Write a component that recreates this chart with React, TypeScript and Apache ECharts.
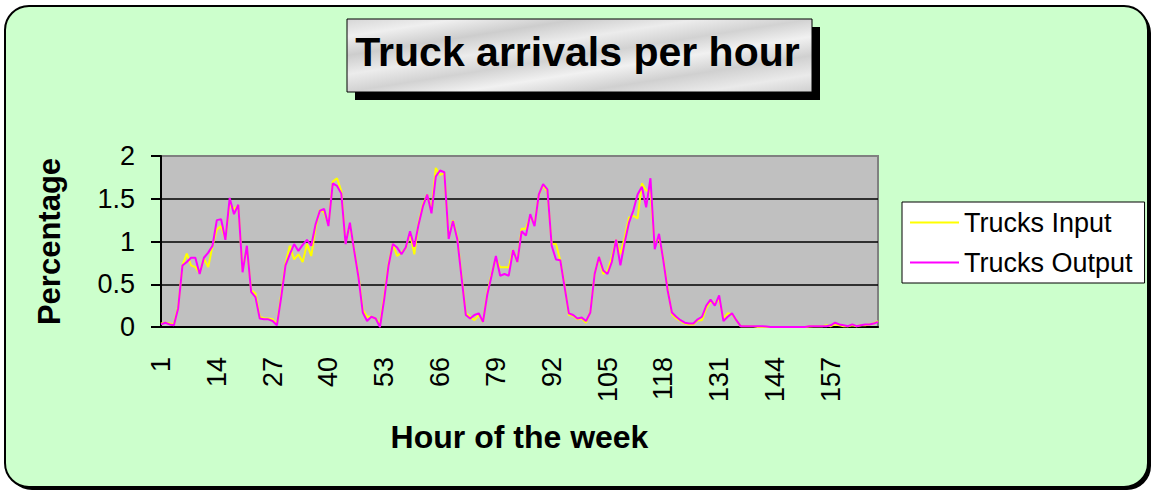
import React, { useEffect, useRef } from "react";
import * as echarts from "echarts";

const hours: string[] = Array.from({ length: 168 }, (_, i) => String(i + 1));

const trucksInput: number[] = [
  0.04, 0.05, 0.04, 0.03, 0.24, 0.72, 0.86, 0.72, 0.70, 0.63,
  0.80, 0.70, 0.95, 1.14, 1.18, 1.03, 1.43, 1.38, 1.42, 0.66,
  0.93, 0.43, 0.39, 0.12, 0.10, 0.10, 0.09, 0.03, 0.38, 0.74,
  0.95, 0.79, 0.85, 0.76, 0.97, 0.83, 1.16, 1.37, 1.34, 1.20,
  1.70, 1.74, 1.59, 0.98, 1.20, 0.90, 0.60, 0.20, 0.12, 0.12,
  0.10, 0.03, 0.36, 0.74, 0.97, 0.83, 0.87, 0.92, 1.10, 0.85,
  1.22, 1.43, 1.55, 1.35, 1.86, 1.78, 1.80, 1.05, 1.25, 1.05,
  0.60, 0.16, 0.12, 0.08, 0.14, 0.06, 0.40, 0.62, 0.80, 0.70,
  0.70, 0.70, 0.90, 0.76, 1.15, 1.15, 1.30, 1.20, 1.55, 1.66,
  1.58, 0.97, 0.97, 0.78, 0.49, 0.14, 0.13, 0.09, 0.10, 0.05,
  0.18, 0.62, 0.82, 0.62, 0.66, 0.81, 1.02, 0.85, 1.05, 1.28,
  1.30, 1.27, 1.68, 1.60, 1.58, 0.95, 1.05, 0.80, 0.45, 0.15,
  0.10, 0.07, 0.04, 0.03, 0.03, 0.08, 0.08, 0.22, 0.30, 0.27,
  0.33, 0.10, 0.16, 0.15, 0.08, 0.01, 0.01, 0.01, 0.01, 0,
  0, 0, 0, 0, 0, 0, 0, 0, 0, 0,
  0, 0.005, 0.01, 0.01, 0.01, 0.02, 0.01, 0.03, 0.02, 0.01,
  0.01, 0.02, 0.01, 0.02, 0.02, 0.03, 0.04, 0.07,
];

const trucksOutput: number[] = [
  0.03, 0.05, 0.03, 0.02, 0.22, 0.72, 0.76, 0.81, 0.81, 0.62,
  0.81, 0.87, 0.95, 1.25, 1.26, 1.02, 1.51, 1.32, 1.43, 0.64,
  0.95, 0.41, 0.35, 0.10, 0.09, 0.09, 0.07, 0.02, 0.35, 0.72,
  0.85, 0.97, 0.89, 0.96, 1.02, 0.95, 1.20, 1.36, 1.38, 1.18,
  1.68, 1.65, 1.56, 0.97, 1.22, 0.89, 0.58, 0.17, 0.07, 0.12,
  0.10, 0.00, 0.33, 0.72, 0.97, 0.93, 0.85, 0.93, 1.12, 0.94,
  1.20, 1.41, 1.55, 1.33, 1.76, 1.83, 1.81, 1.03, 1.24, 1.03,
  0.58, 0.14, 0.10, 0.14, 0.16, 0.06, 0.38, 0.60, 0.83, 0.60,
  0.62, 0.60, 0.90, 0.76, 1.12, 1.07, 1.32, 1.18, 1.55, 1.67,
  1.61, 0.95, 0.79, 0.78, 0.47, 0.16, 0.14, 0.10, 0.11, 0.07,
  0.17, 0.62, 0.82, 0.66, 0.62, 0.76, 1.02, 0.72, 0.99, 1.22,
  1.36, 1.55, 1.64, 1.40, 1.74, 0.91, 1.09, 0.78, 0.43, 0.17,
  0.12, 0.08, 0.05, 0.04, 0.04, 0.09, 0.12, 0.25, 0.32, 0.25,
  0.37, 0.07, 0.12, 0.16, 0.08, 0.01, 0.01, 0.01, 0.01, 0.01,
  0.01, 0.005, 0, 0, 0, 0, 0, 0, 0, 0,
  0, 0.01, 0.01, 0.01, 0.01, 0.01, 0.02, 0.05, 0.03, 0.02,
  0.01, 0.03, 0.01, 0.02, 0.03, 0.03, 0.04, 0.06,
];

const yTicks = { min: 0, max: 2, interval: 0.5 };

const FONT = "Arial, 'Liberation Sans', Helvetica, sans-serif";

export default function App() {
  const ref = useRef<HTMLDivElement>(null);

  useEffect(() => {
    document.body.style.margin = "0";
    if (!ref.current) return;
    const chart = echarts.init(ref.current, undefined, { renderer: "svg" });

    const marble = new echarts.graphic.LinearGradient(0, 0, 1, 1, [
      { offset: 0, color: "#d6d6d6" },
      { offset: 0.12, color: "#efefef" },
      { offset: 0.25, color: "#cdcdcd" },
      { offset: 0.38, color: "#ececec" },
      { offset: 0.5, color: "#d2d2d2" },
      { offset: 0.62, color: "#f1f1f1" },
      { offset: 0.75, color: "#d0d0d0" },
      { offset: 0.88, color: "#eaeaea" },
      { offset: 1, color: "#cfcfcf" },
    ]);

    chart.setOption({
      animation: false,
      graphic: {
        elements: [
          {
            type: "rect",
            z: -20,
            shape: { x: 8, y: 9, width: 1143, height: 481, r: 24 },
            style: { fill: "#000" },
          },
          {
            type: "rect",
            z: -19,
            shape: { x: 5, y: 6, width: 1143, height: 481, r: 24 },
            style: { fill: "#CCFFCC", stroke: "#000", lineWidth: 2 },
          },
          {
            type: "rect",
            z: -18,
            shape: { x: 355, y: 27, width: 465, height: 73 },
            style: { fill: "#000" },
          },
          {
            type: "rect",
            z: -17,
            shape: { x: 347, y: 19, width: 465, height: 73 },
            style: { fill: marble, stroke: "#000", lineWidth: 1 },
          },
        ],
      },
      title: {
        text: "Truck arrivals per hour",
        left: "center",
        top: 31,
        padding: 0,
        textStyle: {
          fontFamily: FONT,
          fontSize: 41,
          fontWeight: "bold",
          color: "#000",
        },
      },
      legend: {
        orient: "vertical",
        left: 902,
        top: 202,
        backgroundColor: "#ffffff",
        borderColor: "#000",
        borderWidth: 1,
        padding: [7, 12, 7, 8],
        itemGap: 13,
        itemWidth: 49,
        itemHeight: 2,
        textStyle: { fontFamily: FONT, fontSize: 27, color: "#000" },
        data: [
          { name: "Trucks Input", icon: "rect" },
          { name: "Trucks Output", icon: "rect" },
        ],
      },
      grid: {
        left: 161,
        right: 277,
        top: 156,
        bottom: 166,
        show: true,
        backgroundColor: "#C0C0C0",
        borderColor: "#808080",
        borderWidth: 2,
      },
      xAxis: {
        type: "category",
        data: hours,
        boundaryGap: false,
        z: 3,
        axisLine: { show: true, lineStyle: { color: "#000", width: 2 } },
        axisTick: { show: false },
        axisLabel: {
          interval: 12,
          rotate: 90,
          margin: 30,
          fontFamily: FONT,
          fontSize: 27,
          color: "#000",
        },
        splitLine: { show: false },
        name: "Hour of the week",
        nameLocation: "middle",
        nameGap: 94,
        nameTextStyle: {
          fontFamily: FONT,
          fontSize: 32,
          fontWeight: "bold",
          color: "#000",
        },
      },
      yAxis: {
        type: "value",
        min: yTicks.min,
        max: yTicks.max,
        interval: yTicks.interval,
        axisLine: { show: true, lineStyle: { color: "#000", width: 2 } },
        axisTick: { show: true, length: 10, lineStyle: { color: "#000", width: 2 } },
        axisLabel: {
          margin: 26,
          fontFamily: FONT,
          fontSize: 27,
          color: "#000",
        },
        splitLine: {
          show: true,
          showMaxLine: false,
          lineStyle: { color: "#000", width: 1.5 },
        },
        name: "Percentage",
        nameLocation: "middle",
        nameGap: 96,
        nameTextStyle: {
          fontFamily: FONT,
          fontSize: 31,
          fontWeight: "bold",
          color: "#000",
        },
      },
      series: [
        {
          name: "Trucks Input",
          type: "line",
          data: trucksInput,
          symbol: "none",
          color: "#FFFF00",
          lineStyle: { color: "#FFFF00", width: 2 },
        },
        {
          name: "Trucks Output",
          type: "line",
          data: trucksOutput,
          symbol: "none",
          color: "#FF00FF",
          lineStyle: { color: "#FF00FF", width: 2 },
        },
      ],
    });

    return () => {
      chart.dispose();
    };
  }, []);

  return <div ref={ref} style={{ width: 1155, height: 493 }} />;
}
